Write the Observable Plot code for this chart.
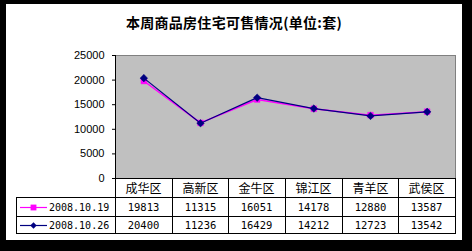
<!DOCTYPE html>
<html>
<head>
<meta charset="utf-8">
<script src="https://cdn.jsdelivr.net/npm/d3@7"></script>
<script src="https://cdn.jsdelivr.net/npm/@observablehq/plot@0.6"></script>
<style>
  html, body { margin:0; padding:0; background:#000; }
  #root { position:relative; width:472px; height:251px; background:#000; overflow:hidden; }
  #panel { position:absolute; left:6px; top:4px; width:456px; height:236px; background:#fff; }
  #title { position:absolute; left:6px; top:12px; width:456px; height:20px; line-height:20px; text-align:center;
           font: bold 14px "Noto Sans CJK SC", sans-serif; color:#000; letter-spacing:0.3px; }
  #chart { position:absolute; left:0; top:0; }
  .hl { position:absolute; height:1px; background:#000; }
  .vl { position:absolute; width:1px; background:#000; }
  .cell { position:absolute; text-align:center; white-space:nowrap; color:#000; }
  .cat { font: 12px "Noto Sans CJK SC", sans-serif; }
  .num { font: 10.5px "DejaVu Sans Mono", monospace; }
  .leg { position:absolute; white-space:nowrap; font: 10px "DejaVu Sans Mono", monospace; color:#000; }
</style>
</head>
<body>
<div id="root">
  <div id="panel"></div>
  <div id="title">本周商品房住宅可售情况(单位:套)</div>
  <div id="chart"></div>
  <div id="table"></div>
</div>
<script>
const categories = ["成华区", "高新区", "金牛区", "锦江区", "青羊区", "武侯区"];
const series1Name = "2008.10.19";
const series1Values = [19813, 11315, 16051, 14178, 12880, 13587];
const series2Name = "2008.10.26";
const series2Values = [20400, 11236, 16429, 14212, 12723, 13542];
const yTicks = [0, 5000, 10000, 15000, 20000, 25000];
const color1 = "#ff00ff";
const color2 = "#000080";

const d1 = categories.map((c, i) => ({i, c, v: series1Values[i]}));
const d2 = categories.map((c, i) => ({i, c, v: series2Values[i]}));

const chart = Plot.plot({
  width: 472, height: 251,
  marginLeft: 115, marginRight: 17, marginTop: 55, marginBottom: 73,
  style: {background: "transparent", fontFamily: "'Liberation Sans', Arial, sans-serif", fontSize: "11px", color: "#000"},
  x: {type: "linear", domain: [-0.5, categories.length - 0.5], axis: null},
  y: {domain: [0, 25000], axis: null},
  marks: [
    Plot.frame({fill: "#c0c0c0", stroke: "#808080"}),
    Plot.ruleX([-0.5], {stroke: "#000"}),
    Plot.ruleY([0], {stroke: "#000"}),
    Plot.axisY(yTicks, {tickSize: 3, tickPadding: 8, tickFormat: d => String(d), label: null, stroke: "#000", fontSize: 11}),
    Plot.line(d1, {x: "i", y: "v", stroke: color1, strokeWidth: 1.5}),
    Plot.dot(d1, {x: "i", y: "v", symbol: "square", r: 3.2, fill: color1, stroke: color1, strokeWidth: 0.5}),
    Plot.line(d2, {x: "i", y: "v", stroke: color2, strokeWidth: 1.2}),
    Plot.dot(d2, {x: "i", y: "v", symbol: "diamond2", r: 3.4, fill: color2, stroke: color2, strokeWidth: 0.5})
  ]
});
document.getElementById("chart").appendChild(chart);

// Data table below the chart, aligned on the chart's x scale
const xs = chart.scale("x");
const tbl = document.getElementById("table");
const left = 16;
const edges = [xs.apply(-0.5)].concat(categories.map((c, i) => xs.apply(i + 0.5)));
const right = edges[edges.length - 1];
function el(cls, css, text) {
  const e = document.createElement("div");
  e.className = cls;
  Object.assign(e.style, css);
  if (text != null) e.textContent = text;
  tbl.appendChild(e);
  return e;
}
[197, 216, 233].forEach(y => el("hl", {left: left + "px", top: y + "px", width: (right - left + 1) + "px"}));
el("vl", {left: left + "px", top: "197px", height: "37px"});
edges.forEach(x => el("vl", {left: Math.round(x) + "px", top: "178px", height: "56px"}));
categories.forEach((c, i) => {
  const x0 = xs.apply(i - 0.5), x1 = xs.apply(i + 0.5);
  const base = {left: Math.round(x0) + "px", width: Math.round(x1 - x0) + "px"};
  el("cell cat", {...base, top: "178px", height: "19px", lineHeight: "19px"}, c);
  el("cell num", {...base, top: "197px", height: "19px", lineHeight: "20px"}, String(series1Values[i]));
  el("cell num", {...base, top: "216px", height: "17px", lineHeight: "18px"}, String(series2Values[i]));
});
function legend(top, h, color, symbol, name) {
  const wrap = el("leg", {left: "19px", top: top + "px", height: h + "px", lineHeight: h + "px"});
  const svg = d3.create("svg").attr("width", 30).attr("height", h)
    .style("vertical-align", "top");
  svg.append("line").attr("x1", 1).attr("x2", 28).attr("y1", h / 2).attr("y2", h / 2)
    .attr("stroke", color).attr("stroke-width", 1.2);
  const sym = symbol === "square" ? d3.symbolSquare : d3.symbolDiamond2;
  svg.append("path").attr("d", d3.symbol(sym, symbol === "square" ? 34 : 26)())
    .attr("transform", `translate(14.5,${h / 2})`).attr("fill", color);
  wrap.appendChild(svg.node());
  const t = document.createElement("span");
  t.textContent = name;
  wrap.appendChild(t);
}
legend(198, 19, color1, "square", series1Name);
legend(217, 17, color2, "diamond", series2Name);
</script>
</body>
</html>
